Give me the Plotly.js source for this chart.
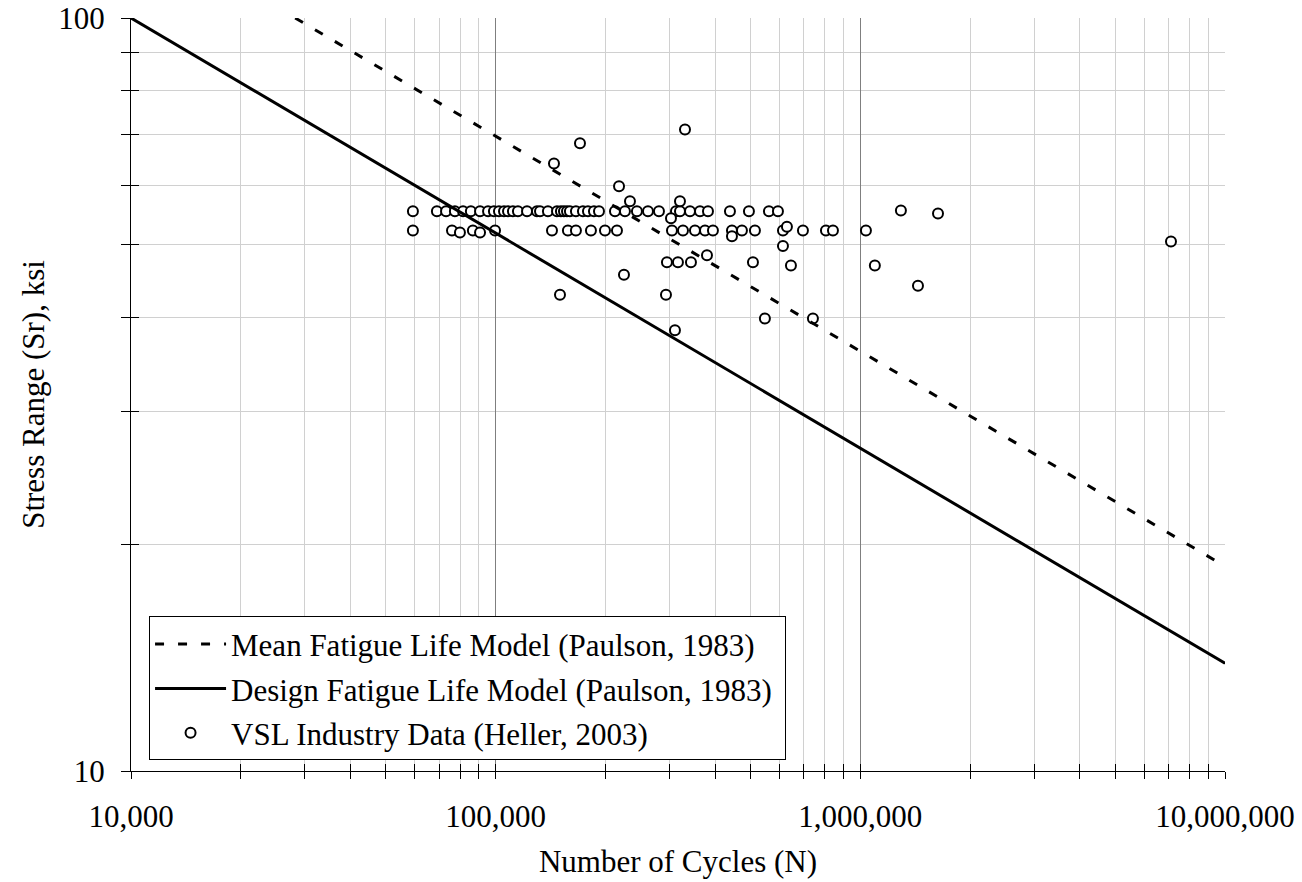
<!DOCTYPE html>
<html>
<head>
<meta charset="utf-8">
<script src="https://cdn.plot.ly/plotly-3.0.1.min.js"></script>
<style>html,body{margin:0;padding:0;background:#fff;}#chart{width:1302px;height:882px;}</style>
</head>
<body>
<div id="chart"></div>
<script>
// ---- data ----
var meanCycles = [28200, 10000000];
var meanStress = [100, 18.7];
var designCycles = [10000, 10000000];
var designStress = [100, 13.9];

var vslCycles = [
  59300, 69000, 73100, 77300, 81400, 85500, 90600, 95300, 98900, 102100,
  105400, 108100, 111500, 115100, 121900, 129800, 132300, 139100, 147300, 151000,
  153900, 156900, 159800, 166000, 173500, 179100, 186000, 192000, 212400, 226200,
  244000, 261600, 280400, 312200, 320200, 341100, 363300, 382100, 439000, 494900,
  561500, 594400, 1292000, 1633000,
  59300, 75900, 79800, 86600, 90600, 99600, 142700, 157800, 166000, 182500,
  199400, 215100, 304400, 326300, 352000, 375000, 394300, 444600, 473500, 514000,
  613500, 629100, 696000, 804800, 841200, 1036000,
  170300, 144500, 217900, 233500, 320200, 302500, 224800, 150100, 330500, 294900,
  316100, 343200, 379700, 507600, 613500, 645200, 1096000, 293100, 547400, 741300,
  310200, 1439000, 7110000, 444600
];
var vslStress = [
  55.4, 55.4, 55.4, 55.4, 55.4, 55.4, 55.4, 55.4, 55.4, 55.4,
  55.4, 55.4, 55.4, 55.4, 55.4, 55.4, 55.4, 55.4, 55.4, 55.4,
  55.4, 55.4, 55.4, 55.4, 55.4, 55.4, 55.4, 55.4, 55.4, 55.4,
  55.4, 55.4, 55.4, 55.4, 55.4, 55.4, 55.4, 55.4, 55.4, 55.4,
  55.4, 55.4, 55.5, 55.0,
  52.2, 52.2, 51.9, 52.2, 51.9, 52.2, 52.2, 52.2, 52.2, 52.2,
  52.2, 52.2, 52.2, 52.2, 52.2, 52.2, 52.2, 52.2, 52.2, 52.2,
  52.2, 52.8, 52.2, 52.2, 52.2, 52.2,
  68.2, 64.1, 59.8, 57.1, 57.1, 54.2, 45.6, 42.9, 71.1, 47.4,
  47.4, 47.4, 48.4, 47.4, 49.8, 46.9, 46.9, 42.9, 39.9, 39.9,
  38.5, 44.1, 50.5, 51.3
];

var seriesNames = [
  'Mean Fatigue Life Model (Paulson, 1983)',
  'Design Fatigue Life Model (Paulson, 1983)',
  'VSL Industry Data (Heller, 2003)'
];

var xMajorVals = [10000, 100000, 1000000, 10000000];
var xMajorText = ['10,000', '100,000', '1,000,000', '10,000,000'];
var xMinorVals = [20000, 30000, 40000, 50000, 60000, 70000, 80000, 90000,
                  200000, 300000, 400000, 500000, 600000, 700000, 800000, 900000,
                  2000000, 3000000, 4000000, 5000000, 6000000, 7000000, 8000000, 9000000];
var yMajorVals = [10, 100];
var yMajorText = ['10', '100'];
var yMinorVals = [20, 30, 40, 50, 60, 70, 80, 90];

var xTitle = 'Number of Cycles (N)';
var yTitle = 'Stress Range (Sr), ksi';

// ---- chart ----
var FONT = '"Liberation Serif", "Times New Roman", serif';
var FS = 31;
var PAD = '\u00a0'; // small right padding inside the legend box

var traces = [
  {x: meanCycles, y: meanStress, xaxis: 'x2', yaxis: 'y2', mode: 'lines', name: seriesNames[0] + PAD,
   legendgroup: 'a', line: {color: 'black', width: 3, dash: '9px,14px'}, hoverinfo: 'skip'},
  {x: designCycles, y: designStress, xaxis: 'x2', yaxis: 'y2', mode: 'lines', name: seriesNames[1] + PAD,
   legendgroup: 'b', line: {color: 'black', width: 3}, hoverinfo: 'skip'},
  {x: vslCycles, y: vslStress, xaxis: 'x', yaxis: 'y', mode: 'markers', name: seriesNames[2],
   legendgroup: 'c', marker: {symbol: 'circle', size: 10, color: 'white', line: {color: 'black', width: 2}}}
];

var hidden = {showticklabels: false, showgrid: false, zeroline: false};

var layout = {
  width: 1302, height: 882,
  margin: {l: 131, r: 77, t: 18, b: 111, pad: 0},
  paper_bgcolor: 'white', plot_bgcolor: 'white',
  font: {family: FONT, size: FS, color: 'black'},
  showlegend: true,
  legend: {x: 0.0165, y: 0.014, xanchor: 'left', yanchor: 'bottom', bgcolor: 'white',
           bordercolor: 'black', borderwidth: 1, font: {family: FONT, size: FS, color: 'black'},
           itemwidth: 71, tracegroupgap: 1},
  xaxis: {type: 'log', range: [4, 7], tickmode: 'array', tickvals: xMajorVals, ticktext: xMajorText,
          ticks: 'outside', ticklen: 7, tickwidth: 1, tickcolor: 'black', ticklabelstandoff: 11,
          showline: true, linecolor: 'black', linewidth: 1, zeroline: false,
          showgrid: true, gridcolor: '#7f7f7f', gridwidth: 1,
          minor: {tickmode: 'array', tickvals: xMinorVals, ticks: 'outside', ticklen: 7, tickwidth: 1,
                  tickcolor: 'black', showgrid: true, gridcolor: '#d0d0d0', gridwidth: 1},
          tickfont: {family: FONT, size: FS, color: 'black'},
          title: {text: xTitle, font: {family: FONT, size: FS, color: 'black'}, standoff: 17},
          fixedrange: true},
  yaxis: {type: 'log', range: [1, 2], tickmode: 'array', tickvals: yMajorVals, ticktext: yMajorText,
          ticks: 'outside', ticklen: 9, tickwidth: 1, tickcolor: 'black', ticklabelstandoff: 10,
          showline: true, linecolor: 'black', linewidth: 1, zeroline: false,
          showgrid: true, gridcolor: '#7f7f7f', gridwidth: 1,
          minor: {tickmode: 'array', tickvals: yMinorVals, ticks: 'outside', ticklen: 9, tickwidth: 1,
                  tickcolor: 'black', showgrid: true, gridcolor: '#d0d0d0', gridwidth: 1},
          tickfont: {family: FONT, size: FS, color: 'black'},
          title: {text: yTitle, font: {family: FONT, size: FS, color: 'black'}, standoff: 4},
          fixedrange: true},
  xaxis2: Object.assign({type: 'log', range: [4, 7], overlaying: 'x', anchor: 'y', side: 'bottom',
          tickmode: 'array', tickvals: xMajorVals, ticks: 'inside', ticklen: 7, tickwidth: 1, tickcolor: 'black',
          showline: false,
          minor: {tickmode: 'array', tickvals: xMinorVals, ticks: 'inside', ticklen: 7, tickwidth: 1,
                  tickcolor: 'black', showgrid: false}, fixedrange: true}, hidden),
  yaxis2: Object.assign({type: 'log', range: [1, 2], overlaying: 'y', anchor: 'x', side: 'left',
          tickmode: 'array', tickvals: yMajorVals, ticks: 'inside', ticklen: 8, tickwidth: 1, tickcolor: 'black',
          showline: false,
          minor: {tickmode: 'array', tickvals: yMinorVals, ticks: 'inside', ticklen: 8, tickwidth: 1,
                  tickcolor: 'black', showgrid: false}, fixedrange: true}, hidden),
  xaxis3: Object.assign({type: 'log', range: [4, 7], overlaying: 'x', anchor: 'y', side: 'top',
          ticks: '', showline: true, linecolor: '#808080', linewidth: 1, fixedrange: true}, hidden),
  yaxis3: Object.assign({type: 'log', range: [1, 2], overlaying: 'y', anchor: 'x', side: 'right',
          ticks: '', showline: true, linecolor: '#808080', linewidth: 1, fixedrange: true}, hidden)
};

Plotly.newPlot('chart', traces, layout, {staticPlot: true, displayModeBar: false});
</script>
</body>
</html>
